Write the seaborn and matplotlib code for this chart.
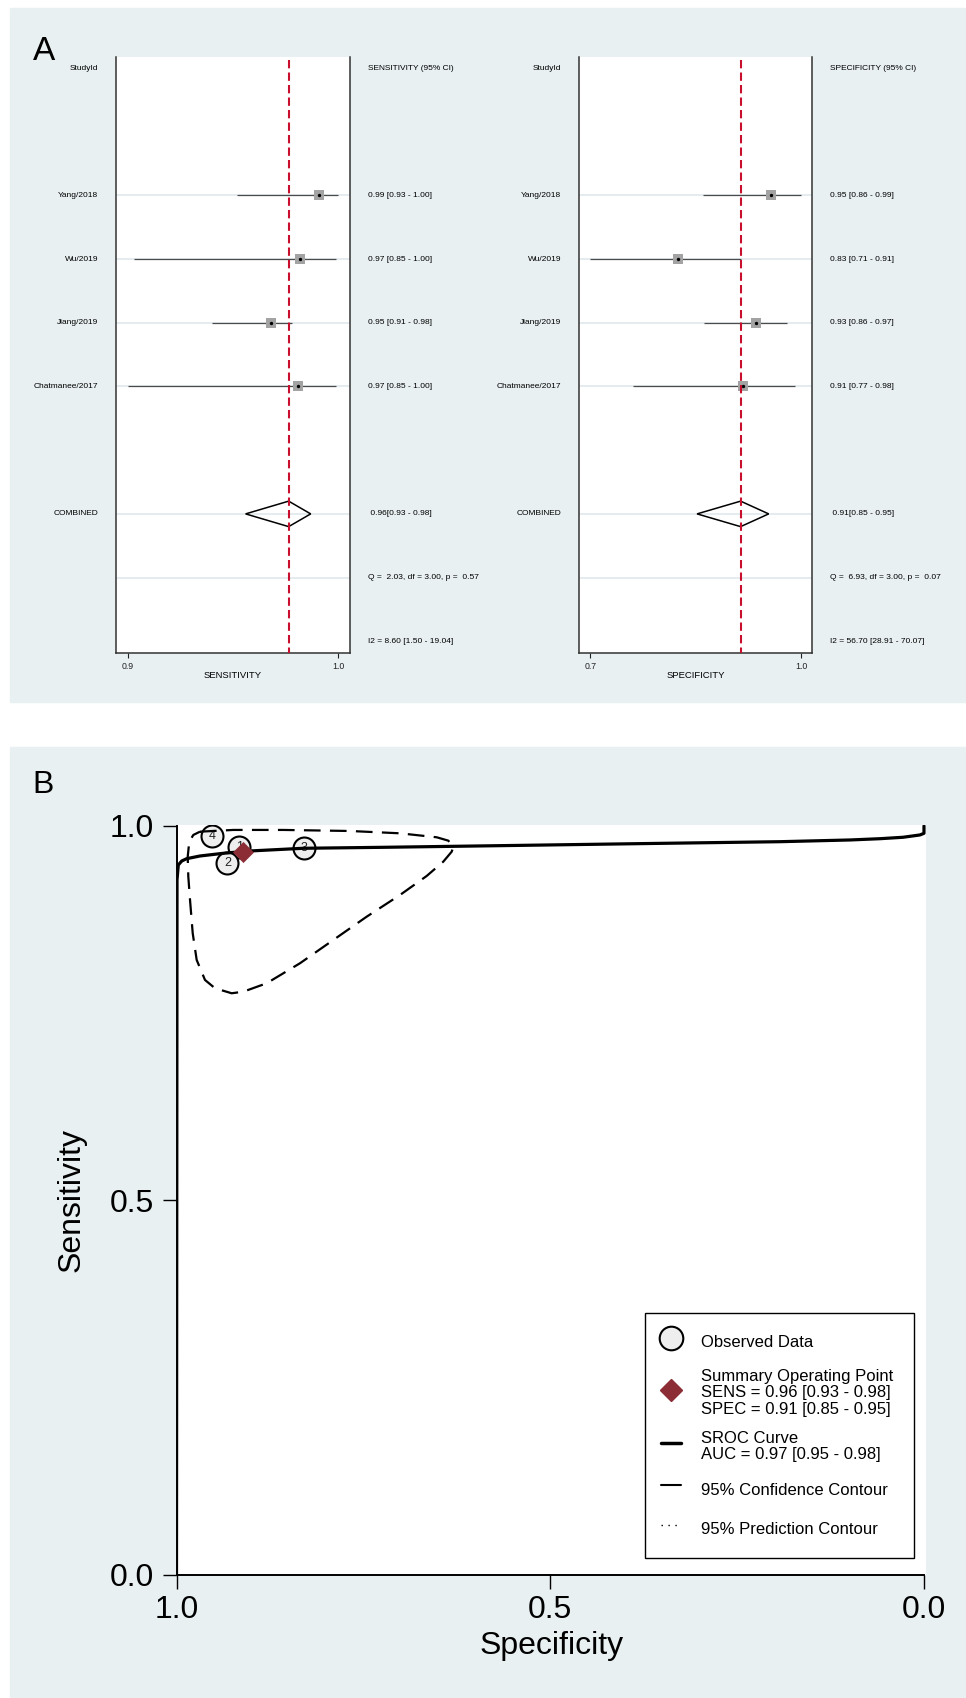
import matplotlib
matplotlib.use("Agg")
import matplotlib.pyplot as plt
from matplotlib.patches import Rectangle, Polygon
from matplotlib.lines import Line2D
import pandas as pd
import seaborn as sns

sns.set_style("white")
plt.rcParams["font.family"] = ["Liberation Sans", "DejaVu Sans"]
plt.rcParams["text.color"] = "black"
plt.rcParams["axes.labelcolor"] = "black"

# ---------------- panel A: forest plots ----------------
studies = ["Yang/2018", "Wu/2019", "Jiang/2019", "Chatmanee/2017"]
study_rows = [2, 3, 4, 5]
combined_row = 7
q_row = 8
i2_row = 9

# sensitivity (positions as drawn)
sens_est = [0.991, 0.982, 0.968, 0.981]
sens_lo = [0.952, 0.903, 0.940, 0.900]
sens_hi = [1.000, 0.999, 0.978, 0.999]
sens_pooled = [0.956, 0.9765, 0.987]   # lo, est, hi
sens_labels = ["0.99 [0.93 - 1.00]", "0.97 [0.85 - 1.00]",
               "0.95 [0.91 - 0.98]", "0.97 [0.85 - 1.00]"]
sens_pooled_label = " 0.96[0.93 - 0.98]"
sens_q = "Q =  2.03, df = 3.00, p =  0.57"
sens_i2 = "I2 = 8.60 [1.50 - 19.04]"

# specificity
spec_est = [0.957, 0.825, 0.936, 0.918]
spec_lo = [0.861, 0.700, 0.862, 0.761]
spec_hi = [1.000, 0.914, 0.980, 0.991]
spec_pooled = [0.852, 0.914, 0.954]
spec_labels = ["0.95 [0.86 - 0.99]", "0.83 [0.71 - 0.91]",
               "0.93 [0.86 - 0.97]", "0.91 [0.77 - 0.98]"]
spec_pooled_label = " 0.91[0.85 - 0.95]"
spec_q = "Q =  6.93, df = 3.00, p =  0.07"
spec_i2 = "I2 = 56.70 [28.91 - 70.07]"

# ---------------- panel B: SROC ----------------
obs_ids = ["1", "2", "3", "4"]
obs_spec = [0.916, 0.932, 0.829, 0.952]
obs_sens = [0.972, 0.951, 0.971, 0.986]
summary_spec = [0.911]
summary_sens = [0.965]

sroc_spec = [1.0, 0.9993, 0.9976, 0.993, 0.9864, 0.9686, 0.9374, 0.9017, 0.8304,
             0.7233, 0.5672, 0.380, 0.1926, 0.099, 0.0589, 0.0281, 0.0054, 0.0, 0.0]
sroc_sens = [0.0, 0.928, 0.9479, 0.9532, 0.9563, 0.9599, 0.9635, 0.9666, 0.9702,
             0.9715, 0.9737, 0.9764, 0.979, 0.9813, 0.983, 0.9849, 0.988, 0.9902, 1.0]

conf_spec = [0.9686, 0.924, 0.8571, 0.7679, 0.701, 0.6519, 0.6364, 0.6297, 0.6318,
             0.6431, 0.6653, 0.701, 0.7456, 0.7902, 0.8348, 0.8793, 0.9106, 0.9262,
             0.9485, 0.9619, 0.973, 0.9783, 0.9819, 0.9842, 0.985, 0.9829, 0.9775, 0.9686]
conf_sens = [0.9924, 0.9947, 0.9947, 0.9933, 0.9902, 0.9849, 0.9804, 0.9723, 0.9657,
             0.9523, 0.9332, 0.9078, 0.8788, 0.8477, 0.8166, 0.7899, 0.7786, 0.7765,
             0.7832, 0.7943, 0.821, 0.8566, 0.9011, 0.9323, 0.959, 0.979, 0.988, 0.9924]

legend_labels = ["Observed Data",
                 "Summary Operating Point\nSENS = 0.96 [0.93 - 0.98]\nSPEC = 0.91 [0.85 - 0.95]",
                 "SROC Curve\nAUC = 0.97 [0.95 - 0.98]",
                 "95% Confidence Contour",
                 "95% Prediction Contour"]

BG = "#e8f0f2"
RED = "#c8102e"
GRIDC = "#e2ebee"
W, H = 966, 1698

fig = plt.figure(figsize=(W / 100, H / 100), dpi=100)
fig.patch.set_facecolor("white")


def fbox(x0, y0, x1, y1):
    return [x0 / W, 1 - y1 / H, (x1 - x0) / W, (y1 - y0) / H]


fig.patches.append(Rectangle((10 / W, 1 - 702 / H), 955 / W, 694 / H,
                             transform=fig.transFigure, color=BG, zorder=-10))
fig.patches.append(Rectangle((10 / W, 1 - 1697 / H), 956 / W, 950 / H,
                             transform=fig.transFigure, color=BG, zorder=-10))

fig.text(33 / W, 1 - 60 / H, "A", fontsize=24, ha="left", va="baseline")
fig.text(32 / W, 1 - 793 / H, "B", fontsize=23, ha="left", va="baseline")


def forest(ax, est, lo, hi, pooled, labels, pooled_label, q_text, i2_text,
           head, xlab, ticks, xlim):
    ax.set_facecolor("white")
    ax.set_xlim(xlim)
    ax.set_ylim(9.184, -0.173)
    for r in study_rows + [combined_row, q_row]:
        ax.axhline(r, color=GRIDC, lw=1.3, zorder=0)
    ax.hlines(study_rows, lo, hi, color="#4a4a4a", lw=0.9, zorder=2)
    df = pd.DataFrame({"est": est, "row": study_rows})
    sns.scatterplot(data=df, x="est", y="row", marker="s", s=55, color="#a3a3a3",
                    linewidth=0, ax=ax, zorder=3)
    sns.scatterplot(data=df, x="est", y="row", marker="o", s=6, color="black",
                    linewidth=0, ax=ax, zorder=4)
    p_lo, p_est, p_hi = pooled
    ax.add_patch(Polygon([[p_lo, combined_row], [p_est, combined_row - 0.2],
                          [p_hi, combined_row], [p_est, combined_row + 0.2]],
                         closed=True, fill=False, ec="black", lw=1.1, zorder=3))
    ax.plot([p_est, p_est], [-0.126, 9.184], color=RED, lw=1.5, dashes=(4, 2), zorder=5)

    tr = ax.get_yaxis_transform()
    fs = 6.0
    ax.text(-0.077, 0, "StudyId", transform=tr, ha="right", va="center", fontsize=fs)
    ax.text(1.077, 0, head, transform=tr, ha="left", va="center", fontsize=fs)
    for r, name, lab in zip(study_rows, studies, labels):
        ax.text(-0.077, r, name, transform=tr, ha="right", va="center", fontsize=fs)
        ax.text(1.077, r, lab, transform=tr, ha="left", va="center", fontsize=fs)
    ax.text(-0.077, combined_row, "COMBINED", transform=tr, ha="right", va="center", fontsize=fs)
    ax.text(1.077, combined_row, pooled_label, transform=tr, ha="left", va="center", fontsize=fs)
    ax.text(1.077, q_row, q_text, transform=tr, ha="left", va="center", fontsize=fs)
    ax.text(1.077, i2_row, i2_text, transform=tr, ha="left", va="center", fontsize=fs)

    ax.set_xticks(ticks)
    ax.set_xticklabels([f"{t:.1f}" for t in ticks])
    ax.set_yticks([])
    ax.tick_params(axis="x", direction="out", length=3.6, width=0.8, pad=3,
                   labelsize=6.3, bottom=True, colors="#222")
    ax.set_xlabel(xlab, fontsize=6.8)
    ax.xaxis.set_label_coords(0.5, -0.031)
    ax.xaxis.label.set_va("top")
    ax.set_ylabel("")
    ax.spines["top"].set_visible(False)
    for s in ["left", "right", "bottom"]:
        ax.spines[s].set_color("#333")
        ax.spines[s].set_linewidth(1.1)


axL = fig.add_axes(fbox(116, 57, 350, 653))
forest(axL, sens_est, sens_lo, sens_hi, sens_pooled, sens_labels, sens_pooled_label,
       sens_q, sens_i2, "SENSITIVITY (95% CI)", "SENSITIVITY", [0.9, 1.0],
       (0.9 - 12 / 2100, 1.0 + 12 / 2100))

axR = fig.add_axes(fbox(579, 57, 812.3, 653))
forest(axR, spec_est, spec_lo, spec_hi, spec_pooled, spec_labels, spec_pooled_label,
       spec_q, spec_i2, "SPECIFICITY (95% CI)", "SPECIFICITY", [0.7, 1.0],
       (0.7 - 11.3 / 702.3, 1.0 + 11.3 / 702.3))

# ---------------- panel B ----------------
axB = fig.add_axes(fbox(176.5, 825, 926, 1574.5))
axB.set_facecolor("white")

sns.scatterplot(x=obs_spec, y=obs_sens, marker="o", s=250, color="#eeeeee",
                edgecolor="black", linewidth=1.5, ax=axB, zorder=3)
for sp, se, lab in zip(obs_spec, obs_sens, obs_ids):
    axB.text(sp, se, lab, ha="center", va="center", fontsize=9, color="#222", zorder=3.5)

sns.lineplot(x=conf_spec, y=conf_sens, sort=False, estimator=None, color="black",
             lw=1.6, linestyle=(0, (7.5, 4.2)), ax=axB, zorder=4)
sns.lineplot(x=sroc_spec, y=sroc_sens, sort=False, estimator=None, color="black",
             lw=2.3, ax=axB, zorder=4.5)
sns.scatterplot(x=summary_spec, y=summary_sens, marker="D", s=115, color="#8c2d35",
                linewidth=0, ax=axB, zorder=6)

axB.set_xlim(1.0, -0.0027)
axB.set_ylim(0, 1.0013)
axB.set_xticks([1.0, 0.5, 0.0])
axB.set_xticklabels(["1.0", "0.5", "0.0"])
axB.set_yticks([0.0, 0.5, 1.0])
axB.set_yticklabels(["0.0", "0.5", "1.0"])
axB.tick_params(axis="both", direction="out", length=10, width=1.0, labelsize=23,
                colors="black", left=True, bottom=True)
axB.tick_params(axis="x", pad=5)
axB.tick_params(axis="y", pad=6)
axB.spines["top"].set_visible(False)
axB.spines["right"].set_visible(False)
for s in ["left", "bottom"]:
    axB.spines[s].set_color("black")
    axB.spines[s].set_linewidth(1.4)
axB.spines["bottom"].set_bounds(0, 1)
axB.spines["left"].set_bounds(0, 1)
axB.set_xlabel("Specificity", fontsize=23)
axB.set_ylabel("Sensitivity", fontsize=23)
axB.xaxis.set_label_coords(0.5, -0.0754)
axB.yaxis.set_label_coords(-0.1194, 0.5)

handles = [
    Line2D([], [], marker="o", ls="none", mfc="#eeeeee", mec="black", ms=17, mew=1.5),
    Line2D([], [], marker="D", ls="none", color="#8c2d35", ms=11.5),
    Line2D([], [], color="black", lw=2.5),
    Line2D([], [], color="black", lw=1.5),
    Line2D([], [], color="black", lw=1.0, ls=(0, (1, 4))),
]
leg = axB.legend(handles, legend_labels, loc="upper left",
                 bbox_to_anchor=(645 / W, 1 - 1563 / H, 269 / W, 250 / H),
                 bbox_transform=fig.transFigure, mode="expand",
                 fontsize=12, frameon=True, fancybox=False, framealpha=1,
                 edgecolor="black", borderpad=0.95, borderaxespad=0,
                 handlelength=1.2, handleheight=2.0, handletextpad=1.2,
                 labelspacing=0.85)
leg.get_frame().set_linewidth(1.0)
for t in leg.get_texts():
    t.set_linespacing(1.12)

fig.savefig("out.png", dpi=100, facecolor="white")
